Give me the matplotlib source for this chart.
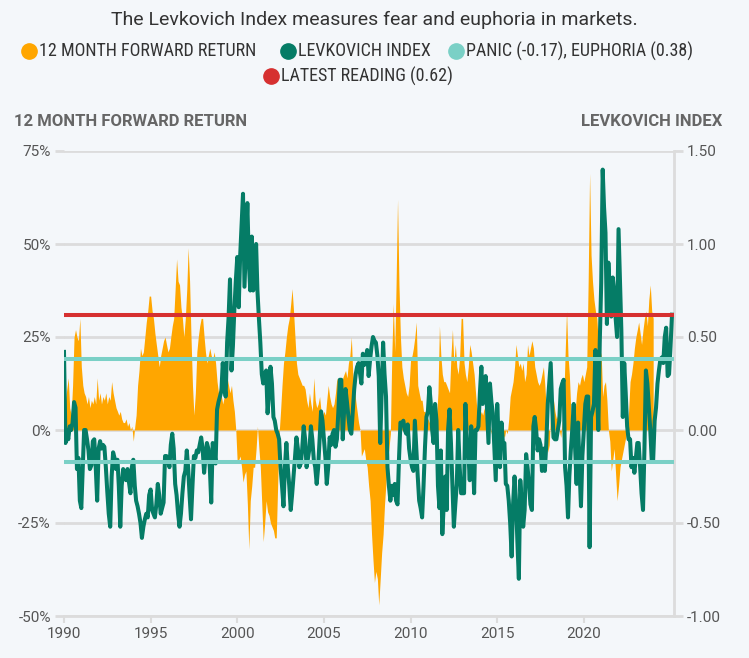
import matplotlib
matplotlib.use('Agg')
import matplotlib.pyplot as plt
from matplotlib.lines import Line2D
import pandas as pd

# monthly 12 month forward return (%), Jan 1990 - Jan 2024
fwd_return = [
    -2, 8, 11, 14, 6, 4, 12, 25, 27, 25, 24, 30,          # 1990
    17, 12, 10, 9, 7, 9, 6, 8, 7, 9, 7, 14,               # 1991
    8, 10, 7, 9, 8, 10, 7, 9, 8, 13, 10, 8,               # 1992
    6, 5, 4, 5, 3, 2, 2, 3, 1, 2, 0, 1,                   # 1993
    -3, 1, 4, 12, 16, 22, 20, 21, 25, 29, 32, 36,         # 1994
    36, 32, 30, 26, 23, 20, 17, 20, 22, 24, 25, 23,       # 1995
    21, 22, 25, 28, 30, 38, 46, 40, 39, 33, 30, 25,       # 1996
    30, 38, 49, 40, 25, 12, 4, 10, 21, 25, 28, 30,        # 1997
    30, 25, 21, 18, 20, 22, 20, 19, 21, 18, 13, 10,       # 1998
    12, 9, 7, 9, 11, 14, 12, 10, 12, 8, 5, 0,             # 1999
    -9, -8, -7, -10, -14, -12, -11, -20, -32, -19, -15, -10,  # 2000
    -10, -5, 1, -5, -10, -20, -30, -25, -19, -22, -23, -25,   # 2001
    -26, -27, -29, -29, -15, -1, 5, 12, 18, 21, 25, 28,   # 2002
    30, 34, 38, 32, 25, 18, 15, 14, 13, 12, 12, 11,       # 2003
    8, 6, 10, 7, 5, 14, 8, 6, 7, 9, 5, 4,                 # 2004
    5, 4, 8, 12, 9, 7, 6, 7, 10, 14, 12, 10,              # 2005
    12, 14, 15, 16, 14, 18, 20, 25, 15, 12, 8, 5,         # 2006
    2, 0, -7, -6, -5, -8, -10, -15, -19, -28, -35, -41,   # 2007
    -38, -40, -47, -40, -33, -28, -20, -14, -8, -5, -1, 20,   # 2008
    34, 21, 39, 62, 39, 25, 17, 14, 12, 10, 9, 12,        # 2009
    19, 20, 22, 25, 29, 12, 10, 8, 8, 5, 5, 3,            # 2010
    3, 2, 1, 2, 0, 1, 3, 10, 28, 20, 15, 13,              # 2011
    13, 12, 11, 10, 20, 27, 18, 23, 17, 15, 20, 30,       # 2012
    30, 18, 15, 13, 17, 23, 21, 18, 15, 10, 5, 8,         # 2013
    4, 5, 4, 6, 3, 2, 0, 1, -1, 0, 1, 1,                  # 2014
    1, 0, -1, -2, -1, -2, 0, -1, 3, 9, 11, 13,            # 2015
    17, 23, 20, 17, 18, 16, 18, 13, 15, 23, 20, 22,       # 2016
    24, 22, 17, 15, 13, 12, 13, 15, 17, 12, 5, -6,        # 2017
    -4, 5, 6, 8, 5, 3, 4, 0, -2, 2, 7, 20,                # 2018
    32, 20, 15, 5, 0, 3, 5, 10, 13, 12, 14, 15,           # 2019
    13, 15, 17, 40, 69, 47, 40, 35, 32, 30, 23, 22,       # 2020
    20, 9, 12, 13, 8, 0, -3, -11, -8, -5, -12, -19,       # 2021
    -15, -10, -8, -6, -4, -2, 0, 5, 13, 15, 18, 22,       # 2022
    25, 27, 29, 26, 23, 27, 30, 32, 28, 35, 39, 32,       # 2023
    30,                                                   # 2024
]

# monthly Levkovich index, Jan 1990 - Feb 2025
levkovich = [
    0.42, -0.07, 0.0, -0.05, 0.02, 0.0, 0.04, 0.15, 0.12, -0.21, -0.15, -0.38,     # 1990
    -0.42, -0.2, 0.0, 0.0, -0.05, -0.11, -0.21, -0.19, -0.06, -0.05, -0.2, -0.38,  # 1991
    -0.1, -0.06, -0.1, -0.08, -0.09, -0.2, -0.33, -0.45, -0.52, -0.25, -0.12, -0.15,  # 1992
    -0.21, -0.16, -0.3, -0.52, -0.3, -0.21, -0.25, -0.27, -0.21, -0.28, -0.34, -0.2,  # 1993
    -0.16, -0.3, -0.38, -0.41, -0.45, -0.5, -0.58, -0.52, -0.48, -0.45, -0.47, -0.35,  # 1994
    -0.32, -0.43, -0.45, -0.47, -0.4, -0.29, -0.35, -0.45, -0.42, -0.39, -0.14, -0.14,  # 1995
    -0.16, -0.2, -0.08, -0.02, -0.1, -0.29, -0.35, -0.45, -0.52, -0.45, -0.34, -0.25,  # 1996
    -0.22, -0.11, -0.2, -0.35, -0.48, -0.3, -0.14, -0.15, -0.11, -0.12, -0.08, -0.04,  # 1997
    -0.1, -0.23, -0.15, -0.07, -0.1, -0.2, -0.39, -0.07, -0.1, -0.18, 0.11, 0.15,  # 1998
    0.18, 0.21, 0.36, 0.25, 0.18, 0.47, 0.6, 0.81, 0.32, 0.45, 0.65, 0.8,          # 1999
    0.93, 0.66, 0.93, 1.1, 1.27, 0.77, 1.0, 1.22, 0.9, 0.75, 1.04, 0.75,           # 2000
    0.8, 1.0, 0.75, 0.6, 0.47, 0.3, 0.25, 0.3, 0.32, 0.09, 0.2, 0.34,              # 2001
    0.25, 0.07, 0.05, 0.0, -0.02, -0.05, -0.2, -0.3, -0.41, -0.2, -0.07, -0.2,     # 2002
    -0.3, -0.43, -0.35, -0.25, -0.15, -0.04, -0.1, -0.2, -0.18, -0.1, 0.02, -0.05,  # 2003
    -0.2, -0.15, -0.1, 0.02, -0.05, -0.16, -0.2, -0.29, -0.2, -0.05, 0.1, 0.05,    # 2004
    -0.05, -0.15, -0.29, -0.2, -0.04, -0.08, -0.02, 0.0, -0.09, -0.05, 0.1, 0.27,  # 2005
    0.27, -0.05, 0.1, 0.22, 0.15, 0.07, 0.0, -0.02, 0.1, 0.22, 0.3, 0.34,          # 2006
    0.36, 0.3, 0.25, 0.41, 0.35, 0.38, 0.43, 0.29, 0.38, 0.45, 0.5, 0.48,          # 2007
    0.47, 0.4, 0.29, -0.07, 0.2, 0.47, 0.3, 0.18, -0.2, -0.3, -0.38, -0.3,         # 2008
    -0.35, -0.29, -0.38, -0.4, -0.16, 0.04, 0.03, 0.05, 0.0, -0.02, 0.03, -0.1,    # 2009
    -0.16, -0.2, -0.22, 0.05, -0.1, -0.25, -0.38, -0.42, -0.47, -0.3, -0.09, 0.07,  # 2010
    0.1, 0.23, 0.15, 0.0, -0.07, 0.14, 0.05, -0.3, -0.42, -0.11, -0.56, -0.4,      # 2011
    -0.25, -0.43, 0.0, 0.11, -0.07, -0.3, -0.52, -0.4, -0.29, 0.0, -0.2, -0.34,    # 2012
    -0.34, -0.34, 0.14, -0.05, -0.11, -0.27, 0.02, -0.1, -0.34, 0.0, 0.0, 0.02,    # 2013
    0.2, 0.34, 0.14, 0.2, 0.29, 0.1, -0.07, 0.25, 0.15, 0.09, -0.1, -0.27,         # 2014
    0.14, -0.05, -0.2, 0.04, -0.07, -0.07, -0.29, -0.3, -0.38, -0.5, -0.68, -0.4,  # 2015
    -0.25, -0.38, -0.6, -0.8, -0.27, -0.4, -0.52, -0.43, -0.13, -0.2, -0.29, -0.4,  # 2016
    -0.43, 0.02, 0.07, 0.0, -0.11, -0.05, -0.08, -0.22, -0.1, -0.22, -0.07, 0.14,  # 2017
    0.25, 0.36, 0.15, -0.04, -0.05, -0.05, 0.0, 0.05, 0.22, 0.25, 0.27, -0.2,      # 2018
    -0.3, -0.47, -0.25, -0.11, 0.0, 0.14, -0.1, -0.29, 0.04, -0.2, -0.41, -0.14,   # 2019
    0.0, 0.14, 0.18, 0.18, -0.63, 0.07, 0.1, 0.14, 0.43, 0.25, 0.0, 0.47,          # 2020
    0.79, 1.4, 1.2, 1.06, 0.57, 0.9, 0.75, 0.61, 0.82, 0.75, 0.6, 0.5,             # 2021
    1.08, 0.8, 0.54, 0.07, 0.36, 0.2, 0.02, -0.05, -0.05, -0.2, -0.15, -0.23,      # 2022
    -0.15, -0.07, -0.07, -0.2, -0.34, -0.43, -0.1, 0.32, 0.25, 0.13, 0.0, -0.16,   # 2023
    -0.16, 0.05, 0.12, 0.25, 0.32, 0.38, 0.39, 0.36, 0.5, 0.55, 0.29, 0.3,         # 2024
    0.45, 0.62,                                                                    # 2025
]

panic = -0.17
euphoria = 0.38
latest = 0.62

left_ticks = [-50, -25, 0, 25, 50, 75]
left_labels = ['-50%', '-25%', '0%', '25%', '50%', '75%']
right_ticks = [-1.0, -0.5, 0.0, 0.5, 1.0, 1.5]
right_labels = ['-1.00', '-0.50', '0.00', '0.50', '1.00', '1.50']
year_ticks = [1990, 1995, 2000, 2005, 2010, 2015, 2020]

BG = '#f4f7fa'
ORANGE = '#ffa600'
GREEN = '#057c66'
TEAL = '#7ad0c6'
RED = '#d63030'
GRID = '#dcdcdc'
TXT = '#555555'
W, H = 749, 658

body = ['Roboto', 'DejaVu Sans']
narrow = ['Roboto Condensed', 'Liberation Sans Narrow', 'Roboto', 'DejaVu Sans']

fig = plt.figure(figsize=(W / 100, H / 100), dpi=100, facecolor=BG)
ax = fig.add_axes([64 / W, 1 - 616 / H, 610 / W, 465 / H])
ax.set_facecolor(BG)
ax2 = ax.twinx()

ret_dates = pd.date_range('1990-01-01', periods=len(fwd_return), freq='MS')
lev_dates = pd.date_range('1990-01-01', periods=len(levkovich), freq='MS')

ax.fill_between(ret_dates, 0, fwd_return, color=ORANGE, lw=0, zorder=2)
ax2.plot(lev_dates, levkovich, color=GREEN, lw=2.9, zorder=3)
ax2.axhline(euphoria, color=TEAL, lw=2.9, zorder=4)
ax2.axhline(panic, color=TEAL, lw=2.9, zorder=4)
ax2.axhline(latest, color=RED, lw=2.9, zorder=5)

ax.set_xlim(pd.Timestamp('1990-01-01'), pd.Timestamp('2025-03-15'))
ax.set_ylim(-50, 75)
ax2.set_ylim(-1.0, 1.5)

ax.set_axisbelow(True)
ax.yaxis.grid(True, color=GRID, lw=2)
ax.set_yticks(left_ticks)
ax.set_yticklabels(left_labels, fontsize=11, color=TXT, family=body)
ax2.set_yticks(right_ticks)
ax2.set_yticklabels(right_labels, fontsize=11, color=TXT, family=body)
ax.tick_params(axis='y', length=6.5, width=2, color=GRID, pad=3)
ax2.tick_params(axis='y', length=6.5, width=2, color=GRID, pad=3)

ax.set_xticks([pd.Timestamp(f'{y}-01-01') for y in year_ticks])
ax.set_xticklabels([str(y) for y in year_ticks], fontsize=11, color=TXT, family=body)
ax.tick_params(axis='x', length=5, width=1.5, color=GRID, pad=3)

for s in ax.spines.values():
    s.set_visible(False)
for s in ax2.spines.values():
    s.set_visible(False)
ax.spines['bottom'].set_visible(True)
ax.spines['bottom'].set_color(GRID)
ax.spines['bottom'].set_linewidth(2)
ax2.spines['right'].set_visible(True)
ax2.spines['right'].set_color(GRID)
ax2.spines['right'].set_linewidth(2)

fig.text(0.5, 1 - 20 / H, 'The Levkovich Index measures fear and euphoria in markets.',
         ha='center', va='center', fontsize=14, color='#333333', family=body)


def legend_item(x, y, color, label):
    fig.add_artist(Line2D([x / W], [1 - y / H], marker='o', ms=11, lw=0,
                          color=color, transform=fig.transFigure))
    fig.text((x + 10) / W, 1 - y / H, label, ha='left', va='center',
             fontsize=13, color='#333333', family=narrow)


legend_item(29, 51, ORANGE, '12 MONTH FORWARD RETURN')
legend_item(288, 51, GREEN, 'LEVKOVICH INDEX')
legend_item(456, 51, TEAL, 'PANIC (-0.17), EUPHORIA (0.38)')
legend_item(271, 76, RED, 'LATEST READING (0.62)')

fig.text(14 / W, 1 - 122 / H, '12 MONTH FORWARD RETURN', ha='left', va='center',
         fontsize=12, fontweight='bold', color='#666666', family=body)
fig.text(722 / W, 1 - 122 / H, 'LEVKOVICH INDEX', ha='right', va='center',
         fontsize=12, fontweight='bold', color='#666666', family=body)

fig.savefig('out.png', dpi=100, facecolor=BG)
